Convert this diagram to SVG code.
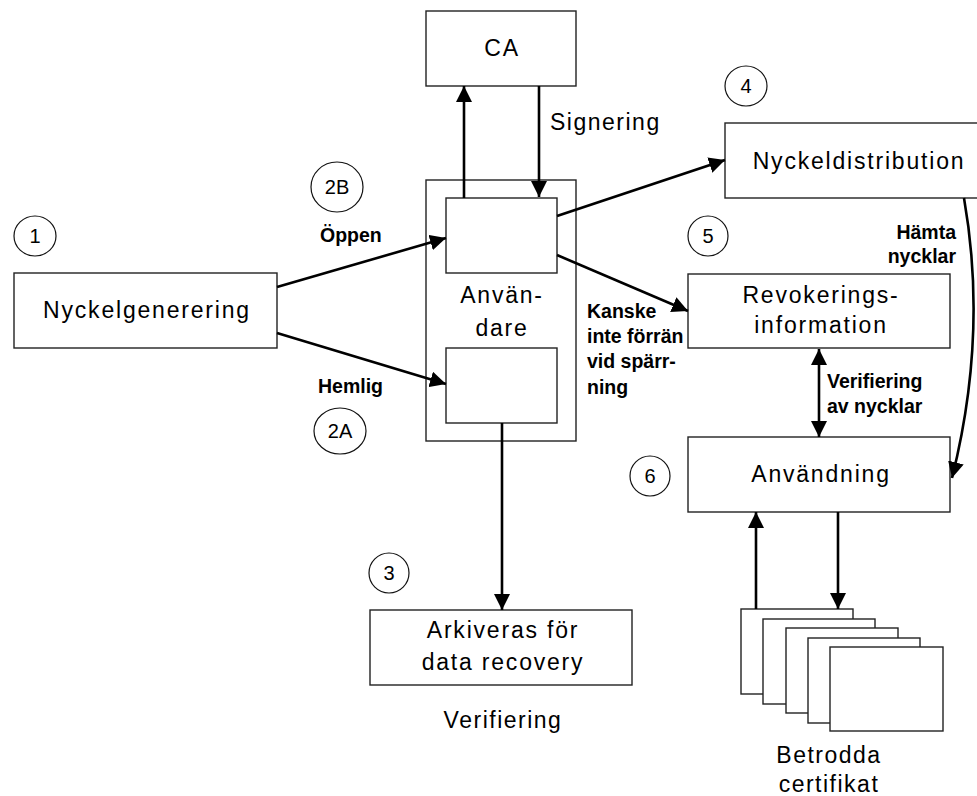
<svg xmlns="http://www.w3.org/2000/svg" width="977" height="796" viewBox="0 0 977 796">
  <defs>
    <marker id="arrow" viewBox="0 0 16 16" refX="16" refY="8" markerWidth="16" markerHeight="16" markerUnits="userSpaceOnUse" orient="auto-start-reverse">
      <path d="M0,0 L16,8 L0,16 Z" fill="#000"/>
    </marker>
  </defs>
  <style>
    .box { fill: #fff; stroke: #222; stroke-width: 1.4; }
    .num { fill: #fff; stroke: #111; stroke-width: 1.2; }
    .t { font-family: "Liberation Sans", Arial, sans-serif; font-size: 23px; letter-spacing: 1.8px; fill: #000; text-anchor: middle; }
    .n { font-family: "Liberation Sans", Arial, sans-serif; font-size: 20px; fill: #000; text-anchor: middle; }
    .lbl { font-family: "Liberation Sans", Arial, sans-serif; font-size: 19.5px; font-weight: bold; fill: #000; }
    .big { font-family: "Liberation Sans", Arial, sans-serif; font-size: 23px; letter-spacing: 1.5px; fill: #000; }
    .conn { fill: none; stroke: #000; stroke-width: 2.6; marker-end: url(#arrow); }
  </style>

  <!-- step markers -->
  <g id="step1"><ellipse class="num" cx="35" cy="236" rx="21" ry="20"/><text class="n" x="35" y="243">1</text></g>
  <g id="step2b"><ellipse class="num" cx="337" cy="187" rx="26" ry="25"/><text class="n" x="337" y="194">2B</text></g>
  <g id="step2a"><ellipse class="num" cx="340" cy="431" rx="26" ry="23"/><text class="n" x="340" y="438">2A</text></g>
  <g id="step3"><ellipse class="num" cx="389" cy="573" rx="20" ry="20"/><text class="n" x="389" y="580">3</text></g>
  <g id="step4"><ellipse class="num" cx="746" cy="86" rx="21" ry="20"/><text class="n" x="746" y="93">4</text></g>
  <g id="step5"><ellipse class="num" cx="708" cy="236" rx="20" ry="20"/><text class="n" x="708" y="243">5</text></g>
  <g id="step6"><ellipse class="num" cx="650" cy="476" rx="20" ry="20"/><text class="n" x="650" y="483">6</text></g>

  <!-- nodes -->
  <g id="ca">
    <rect class="box" x="426" y="11" width="150" height="75"/>
    <text class="t" x="502" y="56">CA</text>
  </g>
  <g id="nyckelgenerering">
    <rect class="box" x="14" y="273" width="263" height="75"/>
    <text class="t" x="147" y="318">Nyckelgenerering</text>
  </g>
  <g id="anvandare">
    <rect class="box" x="426" y="180" width="150" height="261"/>
    <rect class="box" x="446" y="198" width="111" height="75"/>
    <rect class="box" x="446" y="348" width="111" height="75"/>
    <text class="t" x="502" y="303">Använ-</text>
    <text class="t" x="502" y="336">dare</text>
  </g>
  <g id="nyckeldistribution">
    <rect class="box" x="725" y="123" width="254" height="75"/>
    <text class="t" x="859" y="169">Nyckeldistribution</text>
  </g>
  <g id="revokering">
    <rect class="box" x="688" y="274" width="262" height="74"/>
    <text class="t" x="821" y="303">Revokerings-</text>
    <text class="t" x="821" y="333">information</text>
  </g>
  <g id="anvandning">
    <rect class="box" x="688" y="437" width="262" height="75"/>
    <text class="t" x="821" y="482">Användning</text>
  </g>
  <g id="arkiv">
    <rect class="box" x="370" y="610" width="262" height="75"/>
    <text class="t" x="503" y="638">Arkiveras för</text>
    <text class="t" x="503" y="670">data recovery</text>
  </g>
  <g id="certifikat">
    <rect class="box" x="741" y="609" width="112" height="85"/>
    <rect class="box" x="763" y="619" width="112" height="85"/>
    <rect class="box" x="786" y="628" width="112" height="85"/>
    <rect class="box" x="808" y="638" width="112" height="85"/>
    <rect class="box" x="830" y="647" width="113" height="84"/>
  </g>

  <!-- connectors -->
  <g id="connectors">
    <path class="conn" d="M464,198 L464,86"/>
    <path class="conn" d="M539,86 L539,197"/>
    <path class="conn" d="M277,287 L446,238"/>
    <path class="conn" d="M277,333 L446,384"/>
    <path class="conn" d="M557,216 L725,160"/>
    <path class="conn" d="M557,255 L688,311"/>
    <path class="conn" d="M502,423 L502,610"/>
    <path class="conn" d="M819,349 L819,437" marker-start="url(#arrow)"/>
    <path class="conn" d="M964,198 Q988,335 952,478"/>
    <path class="conn" d="M756,609 L756,512"/>
    <path class="conn" d="M838,512 L838,609"/>
  </g>

  <!-- labels -->
  <g id="labels">
    <text class="big" x="550" y="130">Signering</text>
    <text class="lbl" x="320" y="242">Öppen</text>
    <text class="lbl" x="318" y="393">Hemlig</text>
    <text class="lbl" x="587" y="318">Kanske</text>
    <text class="lbl" x="587" y="343">inte förrän</text>
    <text class="lbl" x="587" y="368">vid spärr-</text>
    <text class="lbl" x="587" y="394">ning</text>
    <text class="lbl" x="827" y="388">Verifiering</text>
    <text class="lbl" x="827" y="413">av nycklar</text>
    <text class="lbl" x="956" y="239" text-anchor="end">Hämta</text>
    <text class="lbl" x="956" y="263" text-anchor="end">nycklar</text>
    <text class="big" x="503" y="728" text-anchor="middle">Verifiering</text>
    <text class="big" x="829" y="763" text-anchor="middle">Betrodda</text>
    <text class="big" x="829" y="792" text-anchor="middle">certifikat</text>
  </g>
</svg>
